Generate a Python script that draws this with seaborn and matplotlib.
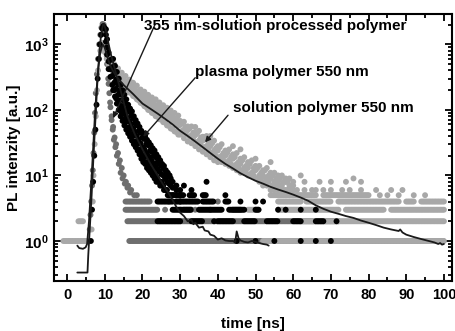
import numpy as np
import pandas as pd
import matplotlib
matplotlib.use("Agg")
import matplotlib.pyplot as plt
import seaborn as sns
from matplotlib.ticker import LogLocator, MultipleLocator, NullFormatter, FixedLocator

# ---------------- data ----------------
# 355 nm - solution processed polymer (dark grey)
g_x = [5.7,6.0,6.2,6.4,6.6,6.8,7.0,7.2,7.4,7.6,7.9,8.2,8.5,8.8,9.1,9.4,9.7,10.0,10.3,10.6,
       10.9,11.2,11.5,11.8,12.1,12.4,12.8,13.2,13.7,14.2,14.7,15.3,16.0,16.7]
g_y = [1,1.5,2.5,4,7,12,22,45,90,180,350,600,1000,1400,1800,2050,2000,1600,1000,500,
       300,180,110,70,50,35,27,20,15,11,9,7.5,6.5,5.5]
g_x2 = [11.0,11.4,11.8,12.2,12.6,13.0,13.5,14.0,14.5,15.0,15.6,16.2,17.0,17.8,18.5]
g_y2 = [250,130,80,55,38,30,22,17,13,10,8,7,6,5,5]
g_runs = [(1,16.5,100),(2,16,72),(3,15.5,24),(4,15.5,22),(3,31,33),(3,44,46)]
g_sparse_x = [30,34,38,27,29,26,40]
g_sparse_y = [3,3,3,4,4,3,4]

# plasma polymer 550 nm (black)
b_rx = [6.3,6.6,6.9,7.2,7.5,7.8,8.1,8.4,8.7,9.0,9.3,9.6,9.9]
b_ry = [1,3,8,20,50,120,300,600,1000,1400,1750,1900,1800]
b_x = [10.3,10.6,11,11.5,12,12.5,13,13.5,14,14.5,15,15.5,16,16.5,17,17.5,18,18.5,19,19.5,
       20,20.5,21,21.5,22,22.5,23,23.5,24,24.5,25,25.5,26,26.5,27,27.5,28,29,30]
b_mid = [1400,900,550,420,330,260,210,170,140,115,100,85,75,67,60,52,46,40,35,31,
         27,25,22,20,18,16.5,15,13.5,12.5,11.5,10.5,10,9,8,7.5,7,6.5,6,5]
b_hi = [1700,1200,750,580,450,380,290,245,195,170,140,125,105,95,82,75,64,58,48,45,
        38,36,30,29,24,23,20,19,16,15,14,13,12,11,10,9,8,7,6]
b_lo = [1100,700,420,320,240,200,150,125,100,88,72,65,54,50,43,40,33,30,25,23,
        20,19,16,15,13,12,11,10,9,8,8,7,6,6,5,5,5,4,4]
b_x2 = [12.2,12.7,13.2,13.7,14.2,14.7,15.2,15.7,16.2,16.7,17.2,17.7,18.2,18.7,19.2,19.7,
        20.2,20.7,21.2,21.7,22.2,22.7,23.2,23.7,24.2,24.7,25.2,25.7,26.2,26.7,27.2]
b_up = [600,470,380,300,240,200,170,145,120,105,95,80,70,62,55,48,
        44,40,35,32,29,26,24,21,19,17,15,14,12,11,10]
b_dn = [200,160,125,100,80,68,58,50,44,39,34,30,27,24,21,18,
        16,15,13,12,11,10,9,8,8,7,7,6,6,5,5]
b_runs = [(2,24,30),(2,33,36),(2,40,44),(2,47,50),(2,53,56),(2,60,62),(2,66,68),
          (3,28,33),(3,35,41),(3,43,47),(3,50,51),(4,24,28),(4,29.5,35),(4,36,39),(4,42,43),
          (5,28,31),(5,32.5,34),(5,36,37)]
b_sparse_x = [45,50,55,62,66,70,58,62,66,50,52,42,31,33,37,71.5,46,56,39]
b_sparse_y = [1,1,1,1,1,1,3,3,3,4,4,5,7,6,8,2,4,3,2]

# solution polymer 550 nm (light grey)
l_rx = [6.5,6.8,7.0,7.3,7.6,7.9,8.2,8.5,8.8,9.1,9.4,9.7]
l_ry = [1.5,4,10,30,80,200,400,600,800,950,1050,1000]
l_x = [10,10.5,11,11.5,12,12.5,13,13.5,14,14.5,15,15.5,16,16.5,17,17.5,18,18.5,19,19.5,
       20,20.5,21,21.5,22,22.5,23,23.5,24,24.5,25,25.5,26,26.5,27,27.5,28,28.5,29,29.5,
       30,31,32,33,34,35,36,37,38,39,40,41,42,43,44,45,46,47,48,49,50,
       51,52,53,54,55,56,57,58,59,60]
l_hi = [1000,820,640,600,500,500,420,430,350,370,310,330,270,290,240,260,215,235,190,205,
        175,190,160,170,145,155,130,145,118,130,108,118,98,108,90,98,82,90,74,82,
        68,66,56,56,46,48,39,40,33,34,28,30,24,25,21,22,18,19,16,17,14,
        14,12,13,11,11,10,10,9,9,8]
l_mid = [850,660,590,480,460,390,385,330,325,280,280,245,245,215,215,190,190,168,170,150,
         152,135,138,122,125,110,114,100,104,92,95,84,86,76,79,70,72,63,65,57,
         59,50,49,41,41,34,34,28,28,24,24,20,20,17,18,15,15,13,13,11,12,
         10,10,9,9,8,8,7,8,7,7]
l_lo = [760,600,500,430,390,345,320,290,270,250,235,215,205,185,180,163,158,145,140,128,
        124,114,110,100,98,90,88,80,79,72,71,65,64,58,57,52,51,47,46,42,
        42,37,33,31,28,25,23,21,19,17,16,16,15,14,13,12,11,11,10,10,9,
        8,7,7,6,6,6,6,5,5,5]
l_xb = [30.5,31.5,32.5,33.5,34.5,35.5,36.5,37.5,38.5,39.5,40.5,41.5,42.5,43.5,44.5,
        45.5,46.5,47.5,48.5,49.5,50.5,51.5,52.5,53.5,54.5,55.5,56.5,57.5,58.5,59.5]
l_b1 = [62,55,52,45,44,38,37,31,31,26,27,22,22,19,19,16,17,14,15,13,13,11,12,10,10,9,9,8,8,7]
l_b2 = [48,43,39,35,32,29,27,24,22,20,19,17,16,15,14,13,12,11,10,10,9,9,8,8,7,7,7,6,6,6]
l_runs = [(1,-1,6),(2,3,4.5),(1,52,100),(2,62,100),(3,48,51),(3,56,72),(3,74,84),(3,86,100),
          (4,56,62),(4,63.5,70),(4,72,88),(4,90,92),(4,94,100),(5,54,66),(5,68,80)]
l_sparse_x = [56,58,60,61,63,65,66,68,70,73,75,78,82,86,89,58,63,67,70,74,78,
              83,85,88,92,95,54,62,76,46,38,34,44,50]
l_sparse_y = [6,6,6,6,6,6,6,6,6,6,6,6,6,6,6,8,8,8,8,8,8,
              5,5,5,5,5,16,10,9,25,40,55,28,18]

# fit / response curves (black lines)
lineA_x = [2.7,5.4,5.6,6.0,6.5,7.0,7.5,8.0,8.5,9.0,9.5,9.8,10.2,10.8,11.5,12.5,13.5,14.5,16,18,
           20,22,24,26,27,28,29,30,31,32,33,33.5,34,35,36,36.5,37.5,38,39,40,
           41,42,43,44,44.6,45,45.5,46,47,48,49,50,51,52,53,53.5]
lineA_y = [0.33,0.33,0.6,1.5,5,20,70,250,700,1400,2000,2050,1700,1150,750,450,280,170,80,42,
           25,15.5,10,6.5,5.3,4.2,3.3,2.7,2.4,2.0,2.1,1.8,1.9,1.6,1.65,1.45,1.4,1.25,1.2,1.05,
           1.1,1.02,1.0,1.0,0.95,1.4,1.1,1.02,0.97,0.95,1.0,0.97,0.93,0.9,0.88,0.85]
lineB_x = [2.7,3.2,4.2,4.9,5.3,5.8,6.3,6.8,7.3,7.8,8.3,8.8,9.3,9.6,10,10.5,11,11.5,12,13,
           14,15,17.5,20,22,24,26,28,30,32,34,36,38,40,42,44,46,48,50,52,
           54,56,58,60,62,64,66,68,70,72,74,76,78,80,82,84,86,88,88.4,89,
           90,92,94,96,97.5,98.5,99,99.5,100]
lineB_y = [0.85,0.78,0.76,0.8,0.9,2,6,20,70,200,450,750,950,980,880,700,560,470,410,330,
           280,240,175,125,105,88,73,60,48,40,33,27,22,18,15,12.8,10.8,9.4,8.3,7.5,
           6.7,6.1,5.6,5.1,4.6,4.1,3.5,3.1,2.8,2.6,2.4,2.25,2.05,1.9,1.75,1.6,1.5,1.42,1.5,1.35,
           1.25,1.15,1.07,1.0,0.95,0.9,0.93,0.88,0.9]

x_ticks = [0,10,20,30,40,50,60,70,80,90,100]
y_ticks = [1,10,100,1000]
y_tick_labels = [r"$\mathbf{10^{0}}$", r"$\mathbf{10^{1}}$", r"$\mathbf{10^{2}}$", r"$\mathbf{10^{3}}$"]

CHANNEL = 0.4  # time-channel width of the counting electronics


def run_points(runs):
    xs, ys = [], []
    for lvl, a, b in runs:
        t = np.arange(a, b + 1e-9, CHANNEL)
        xs.extend(t.tolist())
        ys.extend([lvl] * len(t))
    return xs, ys


def block(name, xs, ys):
    return pd.DataFrame({"t": xs, "I": ys, "series": name})


gr_x, gr_y = run_points(g_runs)
br_x, br_y = run_points(b_runs)
lr_x, lr_y = run_points(l_runs)

df = pd.concat([
    block("355", g_x + g_x2 + gr_x + g_sparse_x, g_y + g_y2 + gr_y + g_sparse_y),
    block("sol", l_rx + l_x * 3 + l_xb * 2 + lr_x + l_sparse_x,
          l_ry + l_hi + l_mid + l_lo + l_b1 + l_b2 + lr_y + l_sparse_y),
    block("plasma", b_rx + b_x * 3 + b_x2 * 2 + br_x + b_sparse_x,
          b_ry + b_hi + b_mid + b_lo + b_up + b_dn + br_y + b_sparse_y),
], ignore_index=True)

# ---------------- style ----------------
sns.set_theme(style="ticks")
plt.rcParams.update({
    "font.family": ["Liberation Sans", "DejaVu Sans"],
    "font.weight": "bold",
    "mathtext.fontset": "custom",
    "mathtext.rm": "Liberation Sans",
    "mathtext.bf": "Liberation Sans:bold",
    "axes.linewidth": 1.5,
    "text.color": "black",
    "axes.labelcolor": "black",
    "axes.edgecolor": "black",
    "xtick.color": "black",
    "ytick.color": "black",
})

fig = plt.figure(figsize=(4.55, 3.31), dpi=100)
ax = fig.add_axes([0.119, 0.151, 0.874, 0.807])

palette = {"355": "#6e6e6e", "sol": "#a8a8a8", "plasma": "#000000"}
sns.scatterplot(data=df, x="t", y="I", hue="series", palette=palette, s=18,
                linewidth=0, legend=False, ax=ax, zorder=2)

sns.lineplot(x=lineA_x, y=lineA_y, sort=False, estimator=None, color="k", lw=1.3, ax=ax, zorder=3)
sns.lineplot(x=lineB_x, y=lineB_y, sort=False, estimator=None, color="k", lw=1.3, ax=ax, zorder=3)

ax.set_yscale("log")
ax.set_xlim(-3.45, 102.1)
ax.set_ylim(0.245, 2920)

ax.xaxis.set_major_locator(FixedLocator(x_ticks))
ax.xaxis.set_minor_locator(MultipleLocator(5))
ax.set_xticklabels([str(v) for v in x_ticks])
ax.yaxis.set_major_locator(FixedLocator(y_ticks))
ax.set_yticklabels(y_tick_labels)
ax.yaxis.set_minor_locator(LogLocator(base=10, subs=np.arange(2, 10)))
ax.yaxis.set_minor_formatter(NullFormatter())

ax.tick_params(which="both", direction="in", top=True, right=True, width=1.3)
ax.tick_params(which="major", length=5, pad=4)
ax.tick_params(which="minor", length=3)
ax.tick_params(axis="y", labelsize=11)
ax.tick_params(axis="x", labelsize=10.5, pad=5)
for lab in ax.get_xticklabels():
    lab.set_fontweight("bold")

ax.set_xlabel("time [ns]", fontsize=11, fontweight="bold", labelpad=11)
ax.set_ylabel("PL intenzity [a.u.]", fontsize=11, fontweight="bold", labelpad=2)

# annotations
arrow = dict(arrowstyle="-|>", lw=1.0, color="k", mutation_scale=8, shrinkA=0, shrinkB=0)
ax.annotate("", xy=(12.2, 75), xytext=(23.3, 2000), arrowprops=arrow, zorder=5)
ax.annotate("", xy=(20.2, 39), xytext=(34.0, 310), arrowprops=arrow, zorder=5)
ax.annotate("", xy=(36.6, 32), xytext=(42.7, 83), arrowprops=arrow, zorder=5)
ax.text(20.3, 1900, "355 nm-solution processed polymer", fontsize=11, fontweight="bold",
        ha="left", va="center", zorder=6)
ax.text(34.0, 380, "plasma polymer 550 nm", fontsize=11, fontweight="bold",
        ha="left", va="center", zorder=6)
ax.text(44.0, 107, "solution polymer 550 nm", fontsize=11, fontweight="bold",
        ha="left", va="center", zorder=6)

fig.savefig("out.png", dpi=100)
